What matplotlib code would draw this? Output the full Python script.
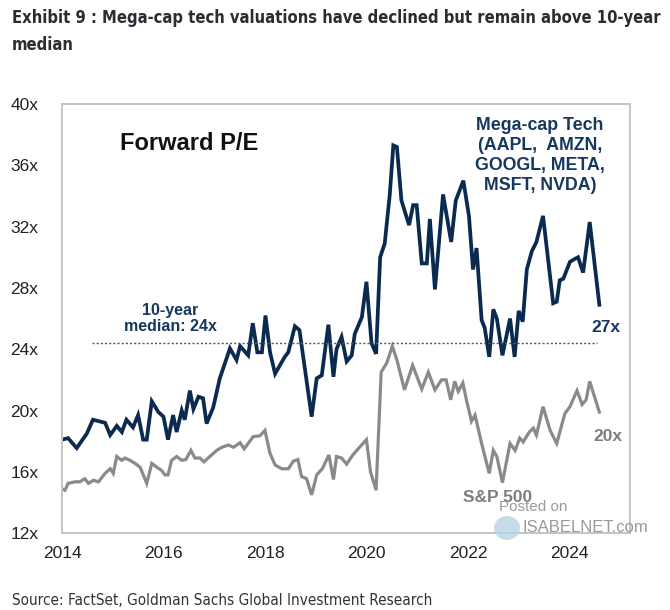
import matplotlib
matplotlib.use("Agg")
import matplotlib.pyplot as plt
from matplotlib import font_manager
from matplotlib.font_manager import FontProperties
from matplotlib.patches import Ellipse
from matplotlib.ticker import FuncFormatter

# Forward P/E (decimal years)
megacap_years = [
    2014.00, 2014.12, 2014.29, 2014.49, 2014.61, 2014.85, 2014.95, 2015.08, 2015.18, 2015.27,
    2015.40, 2015.50, 2015.60, 2015.67, 2015.77, 2015.90, 2016.00, 2016.09, 2016.19, 2016.26,
    2016.36, 2016.42, 2016.52, 2016.59, 2016.69, 2016.78, 2016.85, 2016.98, 2017.11, 2017.31,
    2017.44, 2017.51, 2017.67, 2017.76, 2017.85, 2017.94, 2018.01, 2018.10, 2018.20, 2018.39,
    2018.46, 2018.59, 2018.68, 2018.92, 2019.02, 2019.12, 2019.25, 2019.35, 2019.41, 2019.51,
    2019.61, 2019.71, 2019.77, 2019.91, 2020.00, 2020.10, 2020.19, 2020.27, 2020.36, 2020.46,
    2020.53, 2020.60, 2020.69, 2020.84, 2020.92, 2020.99, 2021.09, 2021.19, 2021.25, 2021.35,
    2021.51, 2021.67, 2021.76, 2021.91, 2022.02, 2022.10, 2022.17, 2022.27, 2022.33, 2022.42,
    2022.50, 2022.57, 2022.68, 2022.83, 2022.92, 2023.00, 2023.08, 2023.16, 2023.26, 2023.35,
    2023.48, 2023.68, 2023.75, 2023.81, 2023.88, 2024.01, 2024.11, 2024.17, 2024.27, 2024.40,
    2024.59,
]
megacap_pe = [
    18.1, 18.2, 17.55, 18.5, 19.4, 19.2, 18.4, 19.0, 18.6, 19.4,
    18.9, 19.7, 18.1, 18.1, 20.6, 19.9, 19.6, 18.1, 19.7, 18.6,
    20.0, 19.4, 21.3, 20.1, 20.9, 20.8, 19.15, 20.2, 22.1, 24.05,
    23.3, 24.2, 23.6, 25.7, 23.8, 23.8, 26.2, 23.8, 22.4, 23.5,
    23.8, 25.5, 25.25, 19.6, 22.1, 22.3, 25.6, 22.2, 24.0, 24.8,
    23.2, 23.6, 25.0, 26.1, 28.4, 24.4, 23.7, 30.0, 30.9, 34.1,
    37.3, 37.2, 33.7, 32.1, 33.4, 33.4, 29.6, 29.6, 32.5, 27.9,
    34.1, 31.0, 33.7, 35.0, 32.7, 29.2, 30.6, 25.9, 25.4, 23.5,
    26.6, 26.0, 23.6, 26.0, 23.5, 26.5, 25.8, 29.2, 30.4, 31.0,
    32.7, 27.0, 27.1, 28.5, 28.6, 29.7, 29.9, 30.0, 29.0, 32.3,
    26.9,
]

sp500_years = [
    2014.00, 2014.06, 2014.12, 2014.26, 2014.35, 2014.45, 2014.52, 2014.62, 2014.72, 2014.85,
    2014.95, 2015.01, 2015.08, 2015.18, 2015.24, 2015.34, 2015.44, 2015.54, 2015.67, 2015.77,
    2015.87, 2015.96, 2016.03, 2016.09, 2016.16, 2016.26, 2016.36, 2016.44, 2016.54, 2016.62,
    2016.72, 2016.80, 2016.88, 2017.05, 2017.15, 2017.28, 2017.38, 2017.51, 2017.59, 2017.77,
    2017.90, 2018.00, 2018.10, 2018.20, 2018.33, 2018.46, 2018.56, 2018.65, 2018.72, 2018.82,
    2018.92, 2019.02, 2019.13, 2019.26, 2019.35, 2019.41, 2019.51, 2019.61, 2019.72, 2019.85,
    2020.00, 2020.08, 2020.19, 2020.29, 2020.40, 2020.51, 2020.60, 2020.75, 2020.91, 2021.09,
    2021.22, 2021.35, 2021.48, 2021.57, 2021.66, 2021.74, 2021.81, 2021.90, 2021.97, 2022.07,
    2022.14, 2022.27, 2022.42, 2022.50, 2022.57, 2022.68, 2022.83, 2022.93, 2023.02, 2023.09,
    2023.21, 2023.29, 2023.35, 2023.48, 2023.62, 2023.75, 2023.91, 2024.01, 2024.15, 2024.25,
    2024.33, 2024.40, 2024.59,
]
sp500_pe = [
    14.9, 14.8, 15.25, 15.35, 15.35, 15.55, 15.25, 15.45, 15.35, 15.9,
    16.2, 15.9, 17.0, 16.75, 16.9, 16.75, 16.55, 16.3, 15.25, 16.55,
    16.3, 16.1, 15.8, 15.8, 16.75, 17.0, 16.75, 16.8, 17.4, 16.9,
    16.9, 16.65, 16.9, 17.4, 17.6, 17.75, 17.6, 17.9, 17.5, 18.3,
    18.35, 18.7, 17.2, 16.45, 16.2, 16.2, 16.7, 16.8, 15.7, 15.55,
    14.5, 15.8, 16.2, 17.1, 15.5, 17.0, 16.9, 16.5, 17.05, 17.55,
    18.1, 16.0, 14.8, 22.5, 23.1, 24.2, 23.3, 21.35, 22.95, 21.4,
    22.5, 21.35, 22.0, 22.0, 20.7, 21.9, 21.25, 21.8, 20.7, 19.3,
    19.7, 17.85, 15.9, 17.4, 17.0, 15.3, 17.85, 17.4, 18.2, 17.95,
    18.6, 18.85, 18.4, 20.25, 18.7, 17.85, 19.8, 20.25, 21.3, 20.4,
    20.7, 21.9, 19.9,
]

median_pe = 24.4
x_ticks = [2014, 2016, 2018, 2020, 2022, 2024]
y_ticks = [12, 16, 20, 24, 28, 32, 36, 40]

navy = "#0b2a50"
navy_text = "#17375e"
grey = "#8a8a8a"


def narrow_font(bold):
    # look for any condensed sans face; fall back to Roboto, which is fairly narrow
    for f in font_manager.fontManager.ttflist:
        if f.stretch in ("condensed", "semi-condensed") and ((f.weight >= 600) == bold) \
                and f.style == "normal":
            return FontProperties(fname=f.fname)
    return FontProperties(family="Roboto", weight="bold" if bold else "normal")


plt.rcParams["font.family"] = ["Liberation Sans", "DejaVu Sans"]

fig = plt.figure(figsize=(6.7, 6.1), dpi=100)
ax = fig.add_axes([0.0925, 0.126, 0.8475, 0.7035])

ax.plot(sp500_years, sp500_pe, color=grey, lw=2.3, solid_joinstyle="miter")
ax.plot(megacap_years, megacap_pe, color=navy, lw=2.7, solid_joinstyle="miter")
ax.hlines(median_pe, 2014.59, 2024.54, colors="#555555", linestyles=(0, (1.5, 1.5)), lw=1.0)

ax.set_xlim(2014, 2025.19)
ax.set_ylim(12, 40)
ax.set_xticks(x_ticks)
ax.set_yticks(y_ticks)
ax.yaxis.set_major_formatter(FuncFormatter(lambda v, p: f"{v:.0f}x"))
ax.tick_params(length=0, labelsize=12.5, labelcolor="#222222")
ax.tick_params(axis="y", pad=17)
ax.tick_params(axis="x", pad=9)
for s in ax.spines.values():
    s.set_color("#c4c4c4")
    s.set_linewidth(1.4)

# annotations
ax.text(2015.15, 37.45, "Forward P/E", fontsize=17, fontweight="bold", color="#111111",
        va="center", ha="left")
ax.text(2023.42, 39.15, "Mega-cap Tech\n(AAPL,  AMZN,\nGOOGL, META,\nMSFT, NVDA)",
        fontsize=12.8, fontweight="bold", color=navy_text, ha="center", va="top", linespacing=1.22)
ax.text(2024.72, 25.45, "27x", fontsize=12.5, fontweight="bold", color=navy_text,
        ha="center", va="center")
ax.text(2024.76, 18.33, "20x", fontsize=12.5, fontweight="bold", color="#7d7d7d",
        ha="center", va="center")
ax.text(2016.13, 26.0, "10-year\nmedian: 24x", fontsize=11.5, fontweight="bold",
        color=navy_text, ha="center", va="center", linespacing=1.1)
ax.text(2022.59, 14.3, "S&P 500", fontsize=12.5, fontweight="bold", color="#7d7d7d",
        ha="center", va="center")

# watermark
fig.add_artist(Ellipse((507 / 670, 1 - 528 / 610), 26 / 670, 24 / 610,
                       transform=fig.transFigure, color="#b8d4e6", alpha=0.8, lw=0))
fig.text(533 / 670, 1 - 507 / 610, "Posted on", fontsize=11, color="#9a9a9a",
         ha="center", va="center")
fig.text(585 / 670, 1 - 528 / 610, "ISABELNET.com", fontsize=12, color="#9a9a9a",
         ha="center", va="center")

# title and source, sized to span the same width as the original
title = fig.text(12 / 670, 1 - 9 / 610,
                 "Exhibit 9 : Mega-cap tech valuations have declined but remain above 10-year\nmedian",
                 fontproperties=narrow_font(True), fontsize=14.5, color="#2b2d33",
                 ha="left", va="top", linespacing=1.65)
source = fig.text(12 / 670, 1 - 608 / 610,
                  "Source: FactSet, Goldman Sachs Global Investment Research",
                  fontproperties=narrow_font(False), fontsize=12, color="#333333",
                  ha="left", va="bottom")

renderer = fig.canvas.get_renderer()
for txt, width in [(title, 648), (source, 420)]:
    w = txt.get_window_extent(renderer).width
    txt.set_fontsize(txt.get_fontsize() * width / w)

fig.savefig("out.png", dpi=100)
